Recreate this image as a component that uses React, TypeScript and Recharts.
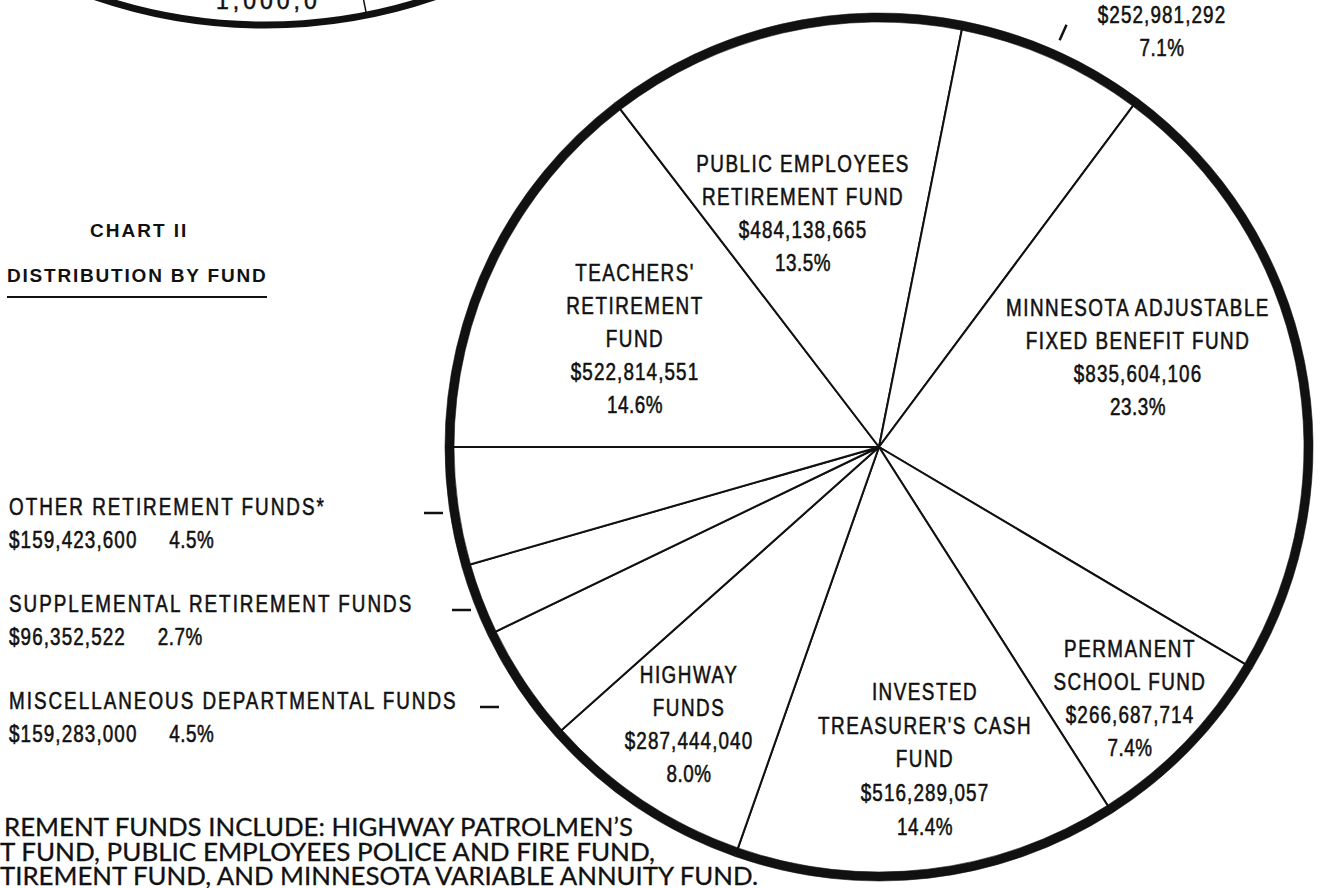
import React from 'react';
import { PieChart, Pie, Cell } from 'recharts';

const W = 1323;
const H = 888;

// ---------- data ----------
const fundNames = [
  "TEACHERS' RETIREMENT FUND",
  'PUBLIC EMPLOYEES RETIREMENT FUND',
  'FUND (NAME CROPPED ABOVE PICTURE)',
  'MINNESOTA ADJUSTABLE FIXED BENEFIT FUND',
  'PERMANENT SCHOOL FUND',
  "INVESTED TREASURER'S CASH FUND",
  'HIGHWAY FUNDS',
  'MISCELLANEOUS DEPARTMENTAL FUNDS',
  'SUPPLEMENTAL RETIREMENT FUNDS',
  'OTHER RETIREMENT FUNDS*',
];
const fundAmounts = [
  522814551, 484138665, 252981292, 835604106, 266687714,
  516289057, 287444040, 159283000, 96352522, 159423600,
];
const fundPercents = ['14.6%', '13.5%', '7.1%', '23.3%', '7.4%', '14.4%', '8.0%', '4.5%', '2.7%', '4.5%'];
const fundLabelLines = [
  ["TEACHERS'", 'RETIREMENT', 'FUND'],
  ['PUBLIC EMPLOYEES', 'RETIREMENT FUND'],
  [],
  ['MINNESOTA ADJUSTABLE', 'FIXED BENEFIT FUND'],
  ['PERMANENT', 'SCHOOL FUND'],
  ['INVESTED', "TREASURER'S CASH", 'FUND'],
  ['HIGHWAY', 'FUNDS'],
  ['MISCELLANEOUS DEPARTMENTAL FUNDS'],
  ['SUPPLEMENTAL RETIREMENT FUNDS'],
  ['OTHER RETIREMENT FUNDS*'],
];
const titleLines = ['CHART II', 'DISTRIBUTION BY FUND'];
const footnoteLines = [
  'REMENT FUNDS INCLUDE: HIGHWAY PATROLMEN\u2019S',
  'T FUND, PUBLIC EMPLOYEES POLICE AND FIRE FUND,',
  'TIREMENT FUND, AND MINNESOTA VARIABLE ANNUITY FUND.',
];
const croppedChartText = '1,000,0';

const pieData = fundNames.map((name, i) => ({ name, value: fundAmounts[i] }));

// ---------- layout / style ----------
const CX = 879;
const CY = 447;
const R = 430;
const SANS = "'Liberation Sans', Arimo, Arial, sans-serif";
const FOOT = "Lato, 'Open Sans', sans-serif";
const INK = '#111';
const SX = 0.82; // condensed look
const FS = 23; // label font size
const STEP = 33; // label line spacing
const LS_CAPS = 1.5;
const LS_AMT = 1.1;
const LS_PCT = 0.5;

// block placement relative to the pie centre: dx = block centre x, dy = first baseline
type Lay =
  | { kind: 'in'; dx: number; dy: number; step?: number }
  | { kind: 'top'; dx: number; dy: number }
  | { kind: 'left'; row: number };
const labelLayout: Lay[] = [
  { kind: 'in', dx: -244, dy: -166 },
  { kind: 'in', dx: -76, dy: -275 },
  { kind: 'top', dx: 283, dy: -424.5 },
  { kind: 'in', dx: 259, dy: -131 },
  { kind: 'in', dx: 251, dy: 210 },
  { kind: 'in', dx: 46, dy: 253, step: 33.7 },
  { kind: 'in', dx: -190, dy: 236 },
  { kind: 'left', row: 2 },
  { kind: 'left', row: 1 },
  { kind: 'left', row: 0 },
];

const fmtMoney = (v: number) => '$' + String(v).replace(/\B(?=(\d{3})+(?!\d))/g, ',');

type NTProps = {
  x: number;
  y: number;
  ls?: number;
  anchor?: 'start' | 'middle' | 'end';
  children: React.ReactNode;
};
// condensed text: ls is the visual letter spacing in px
const NText = ({ x, y, ls = 0, anchor = 'start', children }: NTProps) => (
  <text
    transform={`translate(${x},${y}) scale(${SX},1)`}
    x={0}
    y={0}
    textAnchor={anchor}
    fontFamily={SANS}
    fontSize={FS}
    letterSpacing={ls / SX}
    fill={INK}
    stroke={INK}
    strokeWidth={0.55}
  >
    {children}
  </text>
);

const renderLabel = (p: any) => {
  const i: number = p.index;
  const lay = labelLayout[i];
  const cx: number = p.cx;
  const cy: number = p.cy;
  const or: number = p.outerRadius;
  const amount = fmtMoney(fundAmounts[i]);
  const pct = fundPercents[i];
  if (lay.kind === 'in') {
    const x0 = cx + lay.dx;
    const y0 = cy + lay.dy;
    const step = lay.step ?? STEP;
    const names = fundLabelLines[i];
    const lines = [...names, amount, pct];
    return (
      <g key={`lab-${i}`}>
        {lines.map((t, k) => (
          <NText
            key={k}
            x={x0}
            y={y0 + k * step}
            ls={k < names.length ? LS_CAPS : k === names.length ? LS_AMT : LS_PCT}
            anchor="middle"
          >
            {t}
          </NText>
        ))}
      </g>
    );
  }
  if (lay.kind === 'top') {
    const x0 = cx + lay.dx;
    const y0 = cy + lay.dy;
    const m = (p.midAngle * Math.PI) / 180;
    const r1 = or + 15;
    const r2 = or + 32;
    return (
      <g key={`lab-${i}`}>
        <line
          x1={cx + r1 * Math.cos(m)}
          y1={cy - r1 * Math.sin(m)}
          x2={cx + r2 * Math.cos(m)}
          y2={cy - r2 * Math.sin(m)}
          stroke={INK}
          strokeWidth={2.5}
        />
        <NText x={x0} y={y0} ls={LS_AMT} anchor="middle">
          {amount}
        </NText>
        <NText x={x0} y={y0 + 33.5} ls={LS_PCT} anchor="middle">
          {pct}
        </NText>
      </g>
    );
  }
  const base = 515 + 97 * lay.row;
  const dx = 28 * lay.row;
  return (
    <g key={`lab-${i}`}>
      <line x1={424 + dx} y1={base - 2} x2={443 + dx} y2={base - 2} stroke={INK} strokeWidth={2.5} />
      <NText x={9} y={base} ls={2}>
        {fundLabelLines[i][0]}
      </NText>
      <NText x={9} y={base + 33} ls={LS_AMT}>
        {amount}
        <tspan dx={(33 - LS_AMT) / SX} letterSpacing={LS_PCT / SX}>
          {pct}
        </tspan>
      </NText>
    </g>
  );
};

export default function App() {
  return (
    <div
      style={{
        position: 'absolute',
        left: 0,
        top: 0,
        width: W,
        height: H,
        overflow: 'hidden',
        background: '#fff',
      }}
    >
      <div style={{ position: 'absolute', left: 0, top: 0 }}>
        <PieChart width={W} height={H} margin={{ top: 0, right: 0, bottom: 0, left: 0 }}>
          <Pie
            data={pieData}
            dataKey="value"
            nameKey="name"
            cx={CX}
            cy={CY}
            innerRadius={0}
            outerRadius={R}
            startAngle={180}
            endAngle={-180}
            stroke={INK}
            strokeWidth={2}
            label={renderLabel}
            labelLine={false}
            isAnimationActive={false}
          >
            {pieData.map((d) => (
              <Cell key={d.name} fill="#fff" stroke={INK} strokeWidth={2} />
            ))}
          </Pie>
          <Pie
            data={pieData}
            dataKey="value"
            nameKey="name"
            cx={CX}
            cy={CY}
            innerRadius={425}
            outerRadius={434}
            startAngle={180}
            endAngle={-180}
            fill={INK}
            stroke={INK}
            strokeWidth={0.6}
            isAnimationActive={false}
          />
        </PieChart>
      </div>
      <svg
        width={W}
        height={H}
        style={{ position: 'absolute', left: 0, top: 0, pointerEvents: 'none' }}
      >
        {/* fragment of the chart printed above, cropped by the picture */}
        <circle cx={265} cy={-499} r={524} fill="none" stroke={INK} strokeWidth={7} />
        <line x1={265} y1={-499} x2={366} y2={12} stroke={INK} strokeWidth={1.5} />
        <text
          x={216}
          y={9}
          fontFamily={SANS}
          fontSize={23}
          letterSpacing={4}
          fill={INK}
          stroke={INK}
          strokeWidth={0.5}
        >
          {croppedChartText}
        </text>

        <text x={90} y={237} fontFamily={SANS} fontWeight="bold" fontSize={19} letterSpacing={2} fill={INK}>
          {titleLines[0]}
        </text>
        <text x={7} y={282} fontFamily={SANS} fontWeight="bold" fontSize={19} letterSpacing={1.8} fill={INK}>
          {titleLines[1]}
        </text>
        <line x1={7} y1={297} x2={267} y2={297} stroke={INK} strokeWidth={2} />

        <text fontFamily={FOOT} fontSize={25} fill={INK} stroke={INK} strokeWidth={0.3}>
          <tspan x={4} y={836} textLength={629} lengthAdjust="spacingAndGlyphs">
            {footnoteLines[0]}
          </tspan>
          <tspan x={0} y={861} textLength={655} lengthAdjust="spacingAndGlyphs">
            {footnoteLines[1]}
          </tspan>
          <tspan x={0} y={885} textLength={758} lengthAdjust="spacingAndGlyphs">
            {footnoteLines[2]}
          </tspan>
        </text>
      </svg>
    </div>
  );
}
